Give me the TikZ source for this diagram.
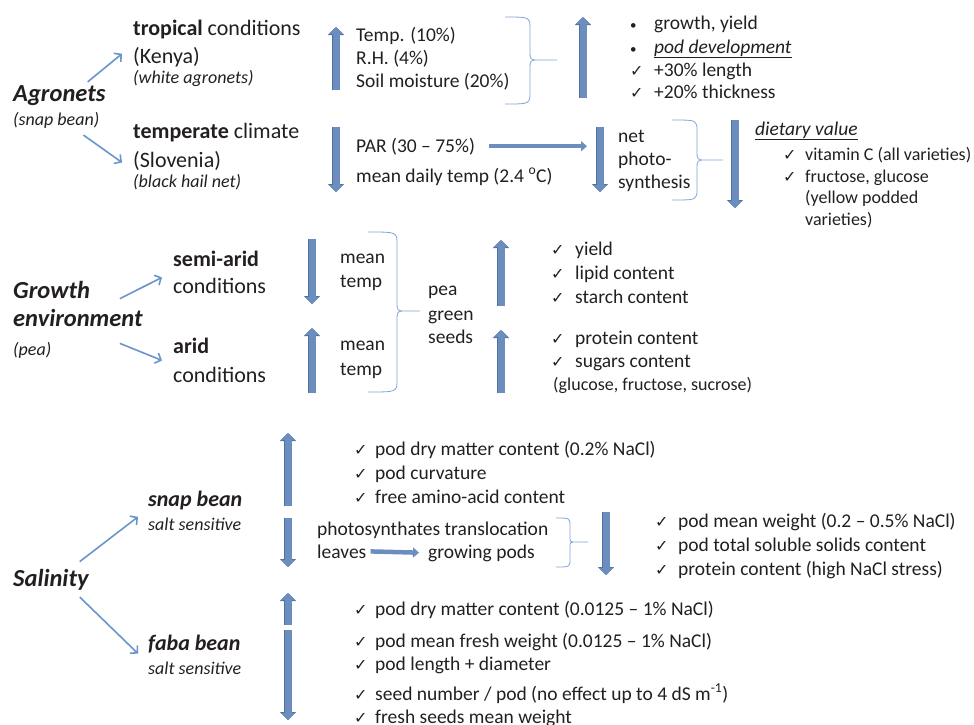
\documentclass[tikz,border=0pt]{standalone}
\usepackage{fontspec}
\setmainfont{Carlito}
\newfontfamily\symfont{DejaVu Sans}
\usepackage{tikz}
\usetikzlibrary{arrows.meta}
\definecolor{inkc}{RGB}{35,31,32}
\definecolor{blockfill}{RGB}{108,142,190}
\definecolor{blockedge}{RGB}{80,112,158}
\definecolor{linkc}{RGB}{104,150,203}
\definecolor{bracec}{RGB}{125,165,212}
\newcommand{\ck}[1][22pt]{\makebox[#1][l]{\fontsize{16}{16}\symfont ✓}}
\newcommand{\bu}[1][24pt]{\makebox[#1][l]{\fontsize{13}{13}\selectfont\textbullet}}

\tikzset{
	txt/.style={anchor=base west, inner sep=0pt, text=inkc, font=\fontsize{19.5}{23}\selectfont},
	small/.style={txt, font=\fontsize{18}{22}\selectfont},
	sub/.style={txt, font=\fontsize{22}{26}\selectfont},
	subbi/.style={txt, font=\fontsize{22}{26}\selectfont\bfseries\itshape},
	note/.style={txt, font=\fontsize{18}{22}\selectfont\itshape},
	head/.style={txt, font=\fontsize{24.5}{29}\selectfont\bfseries\itshape},
	blk/.style={draw=blockfill, line width=7pt, -{Triangle[length=7pt,width=14pt]},
		preaction={draw=blockedge, line width=8pt, -{Triangle[length=8pt,width=16pt]}}},
	flow/.style={draw=blockfill, line width=4.5pt, -{Triangle[length=6pt,width=10pt]}},
	link/.style={draw=linkc, line width=1.6pt, -{Straight Barb[length=5pt,width=11pt]}},
	brace/.style={draw=bracec, line width=0.8pt}
}

\begin{document}
\begin{tikzpicture}[x=1pt,y=-1pt]
	\useasboundingbox (0,0) rectangle (974,724);
	\clip (0,0) rectangle (974,724);

	% agronets
	\node[head] (agro) at (13,101) {Agronets};
	\node[note] (agrosub) at (13,125) {(snap bean)};
	\node[sub] (trop1) at (133,35) {\textbf{tropical} conditions};
	\node[sub] (trop2) at (133,63) {(Kenya)};
	\node[note] (trop3) at (133,83) {(white agronets)};
	\node[sub] (temp1) at (133,138) {\textbf{temperate} climate};
	\node[sub] (temp2) at (133,167) {(Slovenia)};
	\node[note] (temp3) at (133,187) {(black hail net)};
	\draw[link] ([xshift=-18pt,yshift=3pt]agro.north east) -- ([xshift=-11pt,yshift=3pt]trop2.west);
	\draw[link] ([xshift=-16pt,yshift=-7pt]agrosub.south east) -- ([xshift=-11pt,yshift=-2pt]temp2.west);

	\draw[blk] (336,90) -- (336,27);
	\node[txt] (clim1) at (356,41) {Temp. (10\%)};
	\node[txt] (clim2) at (356,64) {R.H. (4\%)};
	\node[txt] (clim3) at (356,87) {Soil moisture (20\%)};
	\draw[brace] (505,17) .. controls (530,17) .. (530,29) -- (530,50) .. controls (530,60) .. (539,60) -- (557,60)
		(539,60) .. controls (530,60) .. (530,70) -- (530,92) .. controls (530,104) .. (505,104);
	\draw[blk] (583,98) -- (583,17);
	\node[txt] (res1) at (630,29) {\bu growth, yield};
	\node[txt] (res2) at (630,53) {\bu\underline{\textit{pod development}}};
	\node[txt] (res3) at (630,76) {\ck[24pt]+30\% length};
	\node[txt] (res4) at (630,98) {\ck[24pt]+20\% thickness};

	\draw[blk] (336,127) -- (336,192);
	\node[txt] (par) at (356,152) {PAR (30 -- 75\%)};
	\node[txt] (mdt) at (356,182) {mean daily temp (2.4 \textsuperscript{o}C)};
	\draw[blk] (600,127) -- (600,192);
	\coordinate (netarrow) at (600,148);
	\draw[flow, shorten <=14pt, shorten >=13pt] (par.east) -- (par.east -| netarrow);
	\node[txt] (net1) at (618,142) {net};
	\node[txt] (net2) at (618,165) {photo-};
	\node[txt] (net3) at (618,188) {synthesis};
	\draw[brace] (672,120) .. controls (697,120) .. (697,131) -- (697,150) .. controls (697,160) .. (706,160) -- (723,160)
		(706,160) .. controls (697,160) .. (697,170) -- (697,189) .. controls (697,200) .. (672,200);
	\draw[blk] (735,120) -- (735,208);
	\node[txt] (diet) at (755,135) {\underline{\textit{dietary value}}};
	\node[small] (diet1) at (783,160) {\ck vitamin C (all varieties)};
	\node[small] (diet2) at (783,182) {\ck fructose, glucose};
	\node[small] (diet3) at (805,203) {(yellow podded};
	\node[small] (diet4) at (805,225) {varieties)};

	% growth environment
	\node[head] (grow1) at (13,298) {Growth};
	\node[head] (grow2) at (13,326) {environment};
	\node[note] (grow3) at (13,355) {(pea)};
	\node[sub] (semi1) at (173,266) {\textbf{semi-arid}};
	\node[sub] (semi2) at (173,293) {conditions};
	\node[sub] (arid1) at (173,353) {\textbf{arid}};
	\node[sub] (arid2) at (173,382) {conditions};
	\draw[link] ([xshift=-23pt,yshift=10pt]grow2.north east) -- ([xshift=-11pt,yshift=8pt]semi2.west);
	\draw[link] ([xshift=-23pt,yshift=-17pt]grow2.south east) -- ([xshift=-11pt,yshift=14pt]arid2.west);

	\draw[blk] (312,239) -- (312,304);
	\draw[blk] (312,393) -- (312,328);
	\node[txt] (mt1) at (340,263) {mean};
	\node[txt] (mt2) at (340,287) {temp};
	\node[txt] (mt3) at (340,350) {mean};
	\node[txt] (mt4) at (340,375) {temp};
	\draw[brace] (368,232) .. controls (397,232) .. (397,244) -- (397,301) .. controls (397,311) .. (406,311) -- (420,311)
		(406,311) .. controls (397,311) .. (397,321) -- (397,380) .. controls (397,392) .. (368,392);
	\node[txt] (pea1) at (428,295) {pea};
	\node[txt] (pea2) at (428,320) {green};
	\node[txt] (pea3) at (428,343) {seeds};
	\draw[blk] (501,306) -- (501,240);
	\draw[blk] (501,393) -- (501,330);
	\node[txt] (pq1) at (551,255) {\ck[24pt]yield};
	\node[txt] (pq2) at (551,279) {\ck[24pt]lipid content};
	\node[txt] (pq3) at (551,303) {\ck[24pt]starch content};
	\node[txt] (pq4) at (551,344) {\ck[24pt]protein content};
	\node[txt] (pq5) at (551,367) {\ck[24pt]sugars content};
	\node[small] (pq6) at (553,390) {(glucose, fructose, sucrose)};

	% salinity
	\node[head] (sal) at (13,586) {Salinity};
	\node[subbi] (snap1) at (148,506) {snap bean};
	\node[note] (snap2) at (148,530) {salt sensitive};
	\node[subbi] (faba1) at (148,650) {faba bean};
	\node[note] (faba2) at (148,674) {salt sensitive};
	\draw[link] ([xshift=-9pt,yshift=7pt]sal.north east) -- ([xshift=-10pt,yshift=7pt]snap2.west);
	\draw[link] ([xshift=-9pt,yshift=-7pt]sal.south east) -- ([xshift=-10pt,yshift=-10pt]faba1.west);

	\draw[blk] (288,506) -- (288,433);
	\draw[blk] (288,518) -- (288,567);
	\node[txt] (sq1) at (354,455) {\ck[21pt]pod dry matter content (0.2\% NaCl)};
	\node[txt] (sq2) at (354,479) {\ck[21pt]pod curvature};
	\node[txt] (sq3) at (354,503) {\ck[21pt]free amino-acid content};
	\node[txt] (trans) at (317,535) {photosynthates translocation};
	\node[txt] (leaves) at (317,558) {leaves};
	\node[txt] (pods) at (428,558) {growing pods};
	\draw[flow, shorten <=4pt, shorten >=9pt] (leaves.east) -- (pods.west);
	\draw[brace] (556,518) .. controls (570,518) .. (570,526) -- (570,536) .. controls (570,542) .. (576,542) -- (588,542)
		(576,542) .. controls (570,542) .. (570,548) -- (570,559) .. controls (570,567) .. (556,567);
	\draw[blk] (606,512) -- (606,575);
	\node[txt] (wq1) at (655,527) {\ck[23pt]pod mean weight (0.2 -- 0.5\% NaCl)};
	\node[txt] (wq2) at (655,551) {\ck[23pt]pod total soluble solids content};
	\node[txt] (wq3) at (655,575) {\ck[23pt]protein content (high NaCl stress)};

	\draw[blk] (288,625) -- (288,593);
	\draw[blk] (288,630) -- (288,720);
	\node[txt] (fq1) at (354,615) {\ck[21pt]pod dry matter content (0.0125 -- 1\% NaCl)};
	\node[txt] (fq2) at (354,647) {\ck[21pt]pod mean fresh weight (0.0125 -- 1\% NaCl)};
	\node[txt] (fq3) at (354,670) {\ck[21pt]pod length + diameter};
	\node[txt] (fq4) at (354,700) {\ck[21pt]seed number / pod (no effect up to 4 dS m\textsuperscript{-1})};
	\node[txt] (fq5) at (354,723) {\ck[21pt]fresh seeds mean weight};
\end{tikzpicture}
\end{document}
